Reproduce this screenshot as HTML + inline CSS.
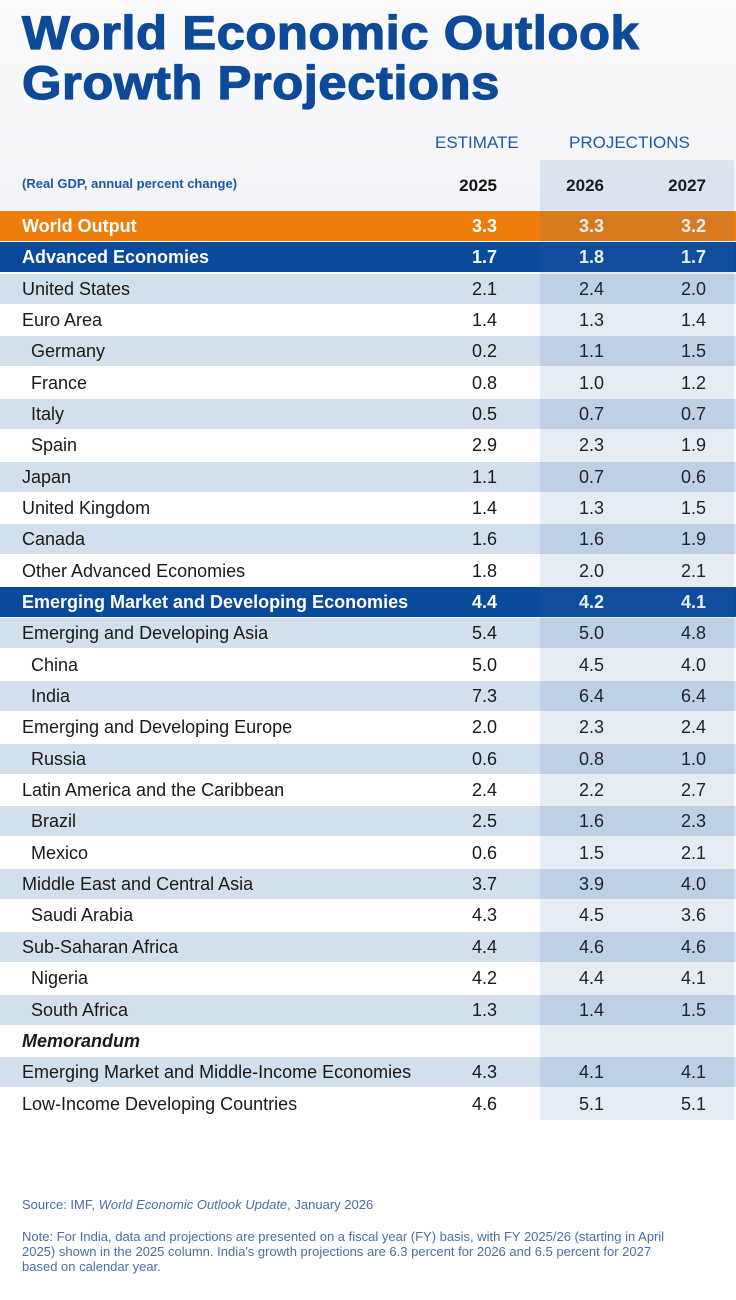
<!DOCTYPE html>
<html><head><meta charset="utf-8">
<style>
*{margin:0;padding:0;box-sizing:border-box}
body{width:736px;height:1300px;background:#fff;font-family:"Liberation Sans",sans-serif;position:relative;overflow:hidden}
.top{position:absolute;left:0;top:0;width:736px;height:210px;background:linear-gradient(#fbfbfc,#f2f4f7)}
.title{position:absolute;left:22px;font-weight:bold;color:#0d4a99;font-size:47px;letter-spacing:0.5px;line-height:1;transform:scaleX(1.08);transform-origin:left;-webkit-text-stroke:1.2px #0d4a99}
.hdr{position:absolute;color:#1c5aa6;font-size:17px}
.yr{position:absolute;font-weight:bold;font-size:17px;color:#111;text-align:right;width:60px}
.row{position:absolute;left:0;width:736px;height:30px;font-size:18px;color:#1a1a1a}
.row span{position:absolute;top:5px}
.v{text-align:right;width:60px}
.proj{position:absolute;left:540px;top:160px;width:194px;height:960px;background:rgba(60,110,170,0.13)}
.src{position:absolute;left:22px;color:#4a6fa5;font-size:13px;line-height:15px}
</style></head><body>
<div class="top"></div>
<div class="title" style="top:9px">World Economic Outlook</div>
<div class="title" style="top:59px">Growth Projections</div>
<div class="hdr" style="left:435px;top:133px">ESTIMATE</div>
<div class="hdr" style="left:569px;top:133px">PROJECTIONS</div>
<div class="hdr" style="left:22px;top:176px;font-size:13px;font-weight:bold">(Real GDP, annual percent change)</div>
<div class="yr" style="left:437px;top:176px">2025</div>
<div class="yr" style="left:544px;top:176px">2026</div>
<div class="yr" style="left:646px;top:176px">2027</div>
<div id="table"></div>
<div class="proj"></div>
<div class="src" style="top:1197px">Source: IMF, <i>World Economic Outlook Update</i>, January 2026</div>
<div class="src" style="top:1229px;width:668px">Note: For India, data and projections are presented on a fiscal year (FY) basis, with FY 2025/26 (starting in April 2025) shown in the 2025 column. India's growth projections are 6.3 percent for 2026 and 6.5 percent for 2027 based on calendar year.</div>
<script>
const labels=["World Output","Advanced Economies","United States","Euro Area","Germany","France","Italy","Spain","Japan","United Kingdom","Canada","Other Advanced Economies","Emerging Market and Developing Economies","Emerging and Developing Asia","China","India","Emerging and Developing Europe","Russia","Latin America and the Caribbean","Brazil","Mexico","Middle East and Central Asia","Saudi Arabia","Sub-Saharan Africa","Nigeria","South Africa","Memorandum","Emerging Market and Middle-Income Economies","Low-Income Developing Countries"];
const v2025=["3.3","1.7","2.1","1.4","0.2","0.8","0.5","2.9","1.1","1.4","1.6","1.8","4.4","5.4","5.0","7.3","2.0","0.6","2.4","2.5","0.6","3.7","4.3","4.4","4.2","1.3","","4.3","4.6"];
const v2026=["3.3","1.8","2.4","1.3","1.1","1.0","0.7","2.3","0.7","1.3","1.6","2.0","4.2","5.0","4.5","6.4","2.3","0.8","2.2","1.6","1.5","3.9","4.5","4.6","4.4","1.4","","4.1","5.1"];
const v2027=["3.2","1.7","2.0","1.4","1.5","1.2","0.7","1.9","0.6","1.5","1.9","2.1","4.1","4.8","4.0","6.4","2.4","1.0","2.7","2.3","2.1","4.0","3.6","4.6","4.1","1.5","","4.1","5.1"];
const kinds=["o","b","s","w","s","w","s","w","s","w","s","w","b","s","w","s","w","s","w","s","w","s","w","s","w","s","m","s","w"];
const indent=[0,0,0,0,1,1,1,1,0,0,0,0,0,0,1,1,0,1,0,1,1,0,1,0,1,1,0,0,0];
const t=document.getElementById('table');
const top0=211,rh=31.34;
labels.forEach((lab,i)=>{
  const r=document.createElement('div');
  
  
  r.className='row';
  r.style.top=(top0+i*rh)+'px';
  const k=kinds[i];
  r.style.background=k==='o'?'#ef7d0a':k==='b'?'#0a4a9a':k==='s'?'#d2dfed':'#fff';
  if(k==='o'||k==='b'){r.style.color='#fff';r.style.fontWeight='bold';}
  let h='<span style="left:'+(indent[i]?31:22)+'px'+(k==='m'?';font-weight:bold;font-style:italic':'')+'">'+lab+'</span>';
  h+='<span class="v" style="left:437px">'+v2025[i]+'</span>';
  h+='<span class="v" style="left:544px">'+v2026[i]+'</span>';
  h+='<span class="v" style="left:646px">'+v2027[i]+'</span>';
  r.innerHTML=h;
  t.appendChild(r);
});
</script>
</body></html>
